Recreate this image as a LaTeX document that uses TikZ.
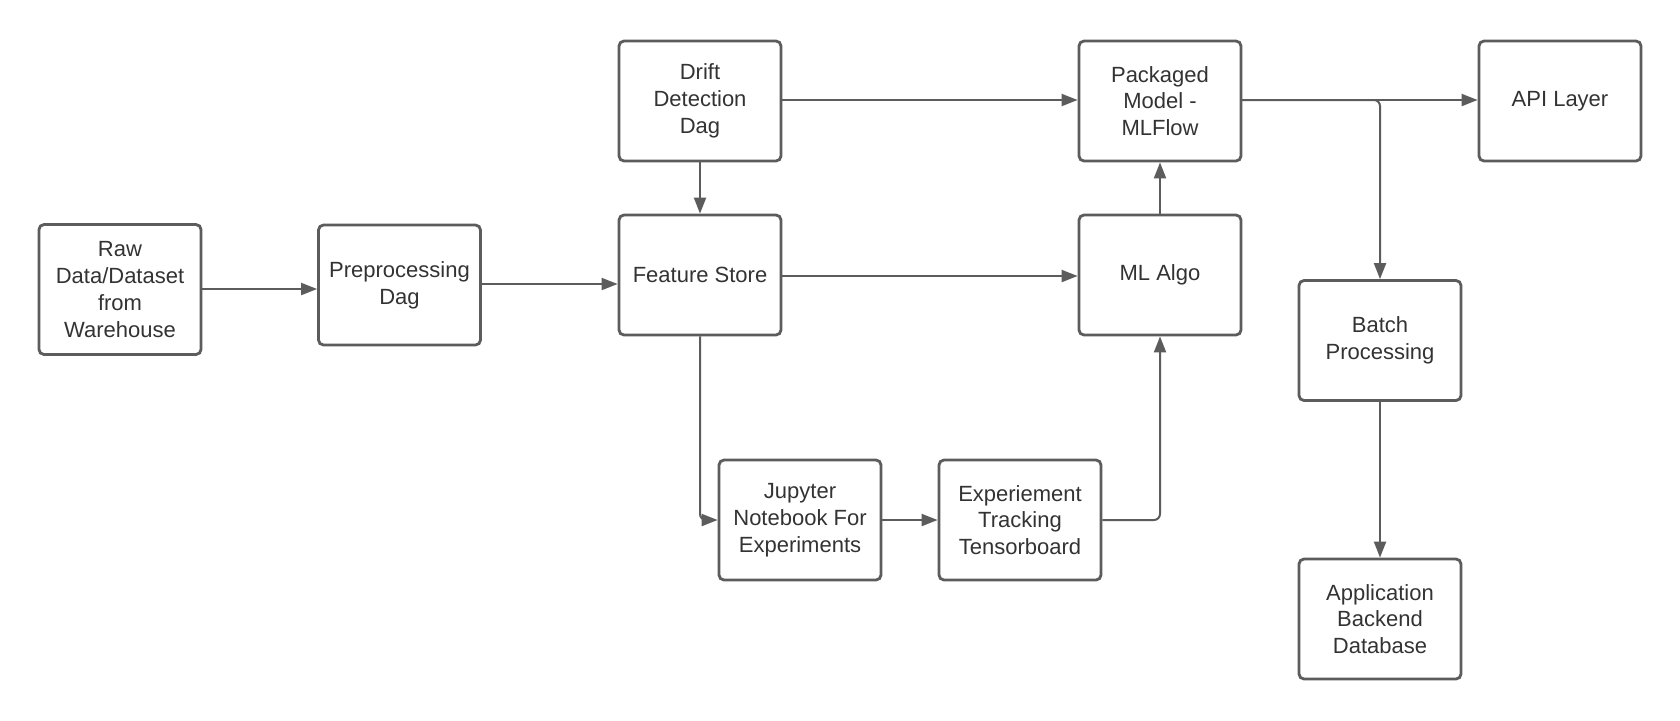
\documentclass[tikz,border=0pt]{standalone}
\usepackage{fontspec}
\setmainfont{Liberation Sans}
\usetikzlibrary{arrows.meta}
\definecolor{lc}{HTML}{5C5C5C}
\definecolor{tc}{HTML}{333333}
\begin{document}
\begin{tikzpicture}[x=0.5pt,y=-0.5pt,
  box/.style={draw=lc,line width=1.4pt,rounded corners=2.5pt,fill=white,
    minimum width=81pt,minimum height=60pt,inner sep=2pt,align=center,
    text=tc,font=\fontsize{11}{13.4}\selectfont},
  conn/.style={draw=lc,line width=1pt,-{Triangle[length=8pt,width=6pt]},rounded corners=3pt}]
\useasboundingbox[fill=white] (0,0) rectangle (1680,720);
\node[box,minimum height=65pt] (raw) at (120,289.5) {Raw\\Data/Dataset\\from\\Warehouse};
\node[box] (pre) at (399.5,285) {Preprocessing\\Dag};
\node[box] (drift) at (700,101) {Drift\\Detection\\Dag};
\node[box] (fs) at (700,275) {Feature Store};
\node[box] (pkg) at (1160,101) {Packaged\\Model -\\MLFlow};
\node[box] (ml) at (1160,275) {ML Algo};
\node[box] (api) at (1560,101) {API Layer};
\node[box] (batch) at (1380,340.5) {Batch\\Processing};
\node[box] (app) at (1380,619) {Application\\Backend\\Database};
\node[box] (jup) at (800,520) {Jupyter\\Notebook For\\Experiments};
\node[box] (exp) at (1020,520) {Experiement\\Tracking\\Tensorboard};
\coordinate (br) at (1380,100);
\coordinate (fsd) at (700,520);
\coordinate (mlu) at (1160,520);
\draw[conn] (raw.east |- 0,289) -- (pre.west |- 0,289);
\draw[conn] (pre.east |- 0,284) -- (fs.west |- 0,284);
\draw[conn] (drift.east |- 0,100) -- (pkg.west |- 0,100);
\draw[conn] (drift.south) -- (fs.north);
\draw[conn] (fs.east |- 0,276) -- (ml.west |- 0,276);
\draw[conn] (ml.north) -- (pkg.south);
\draw[conn] (pkg.east |- br) -- (api.west |- br);
\draw[conn] (pkg.east |- br) -- (br) -- (batch.north);
\draw[conn] (batch.south) -- (app.north);
\draw[conn] (fs.south) -- (fsd) -- (jup.west);
\draw[conn] (jup.east) -- (exp.west);
\draw[conn] (exp.east) -- (mlu) -- (ml.south);
\end{tikzpicture}
\end{document}
